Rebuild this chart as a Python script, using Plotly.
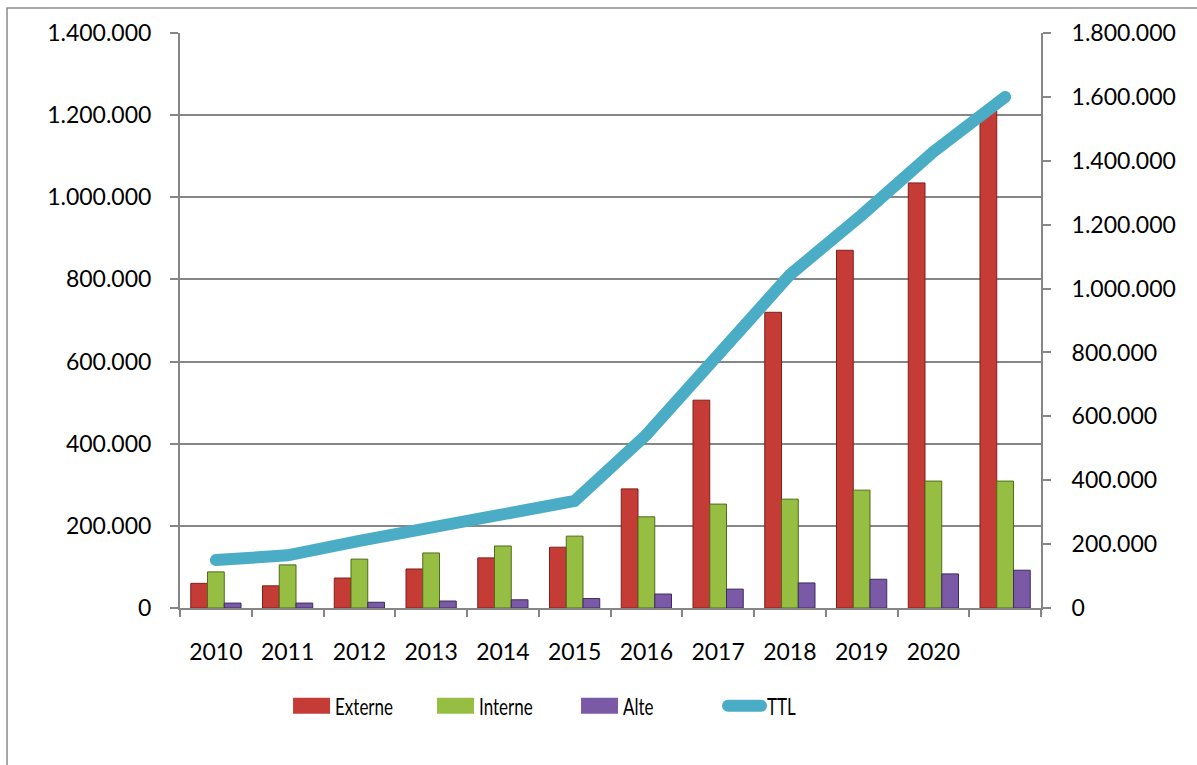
import plotly.graph_objects as go

# Year labels (the last category carries no label)
years = ["2010", "2011", "2012", "2013", "2014", "2015",
         "2016", "2017", "2018", "2019", "2020", ""]

externe = [60000, 54000, 73000, 95000, 122000, 148000,
           290000, 506000, 720000, 871000, 1035000, 1210000]
interne = [88000, 105000, 119000, 134000, 151000, 175000,
           222000, 253000, 265000, 287000, 309000, 309000]
alte = [12000, 12000, 14000, 17000, 20000, 23000,
        34000, 46000, 61000, 70000, 83000, 92000]
ttl = [150000, 165000, 210000, 250000, 288000, 335000,
       542000, 792000, 1043000, 1230000, 1428000, 1600000]

x = list(range(len(years)))
FONT = "Lato, 'Open Sans', Arial, sans-serif"
AXIS = "#868686"

fig = go.Figure()

bar_styles = [
    ("Externe", externe, "#C53C37", "#7E1F1C"),
    ("Interne", interne, "#96BE43", "#4F6B1B"),
    ("Alte", alte, "#7A5AA6", "#3E2A5C"),
]
for name, vals, fill, edge in bar_styles:
    fig.add_trace(go.Bar(
        x=x, y=vals, name=name, showlegend=False,
        marker=dict(color=fill, line=dict(color=edge, width=1)),
        yaxis="y",
    ))

fig.add_trace(go.Scatter(
    x=x, y=ttl, name="TTL", mode="lines", showlegend=False,
    line=dict(color="#4BACC6", width=12),
    yaxis="y2",
))

# Legend entries: flat swatches for the bar series, thick line for TTL
for name, _, fill, _ in bar_styles:
    fig.add_trace(go.Scatter(
        x=[None], y=[None], name=name, mode="lines",
        line=dict(color=fill, width=10), yaxis="y",
    ))
fig.add_trace(go.Scatter(
    x=[None], y=[None], name="TTL", mode="lines",
    line=dict(color="#4BACC6", width=10), yaxis="y2",
))

fig.update_layout(
    width=1197, height=765,
    margin=dict(l=180, r=156, t=33, b=157),
    paper_bgcolor="white", plot_bgcolor="white",
    separators=",.",
    barmode="group", bargap=0.3, bargroupgap=0.0,
    font=dict(family=FONT, size=23, color="#000000"),
    showlegend=True,
    legend=dict(
        orientation="h", x=0.122, xanchor="left", y=-0.17, yanchor="middle",
        font=dict(family=FONT, size=23), itemwidth=40,
        entrywidth=89, entrywidthmode="pixels",
        traceorder="normal",
    ),
    xaxis=dict(
        range=[-0.5, 11.5],
        tickmode="array", tickvals=x, ticktext=years,
        ticks="", showgrid=False, zeroline=False,
        showline=True, linecolor=AXIS, linewidth=2,
        ticklabelstandoff=22,
        minor=dict(ticks="outside", tick0=-0.5, dtick=1, ticklen=7,
                   tickcolor=AXIS, tickwidth=2, showgrid=False),
    ),
    yaxis=dict(
        range=[0, 1400000], dtick=200000, tickformat=",d",
        showgrid=True, gridcolor=AXIS, gridwidth=1.5,
        zeroline=False, showline=True, linecolor=AXIS, linewidth=2,
        ticks="outside", ticklen=8, tickcolor=AXIS, tickwidth=2,
        ticklabelstandoff=14,
    ),
    yaxis2=dict(
        range=[0, 1800000], dtick=200000, tickformat=",d",
        overlaying="y", side="right",
        showgrid=False, zeroline=False,
        showline=True, linecolor=AXIS, linewidth=2,
        ticks="outside", ticklen=8, tickcolor=AXIS, tickwidth=2,
        ticklabelstandoff=16,
    ),
    shapes=[dict(
        type="rect", xref="paper", yref="paper",
        x0=-0.2009, x1=1.3, y0=-0.4, y1=1.0435,
        line=dict(color="#8C8C8C", width=1.5), fillcolor="rgba(0,0,0,0)",
        layer="below",
    )],
)

# Round ends on the TTL curve; wide flat swatches and narrow text in the legend
post = """
document.querySelectorAll('.scatterlayer .js-line').forEach(function(p){
  p.style.strokeLinecap = 'round';
});
document.querySelectorAll('.legend .js-line').forEach(function(p, i){
  if (i < 3) {
    p.setAttribute('d', 'M8,0h37');
    p.style.strokeWidth = '16px';
    p.style.strokeLinecap = 'butt';
  } else {
    p.setAttribute('d', 'M11,0h33');
    p.style.strokeWidth = '12px';
    p.style.strokeLinecap = 'round';
  }
});
document.querySelectorAll('.legend text.legendtext').forEach(function(t){
  var x0 = parseFloat(t.getAttribute('x')) || 0;
  t.setAttribute('transform',
    'translate(' + x0 + ',0) scale(0.74,1) translate(' + (-x0) + ',0)');
});
"""
fig.write_html("out.html", post_script=post)
